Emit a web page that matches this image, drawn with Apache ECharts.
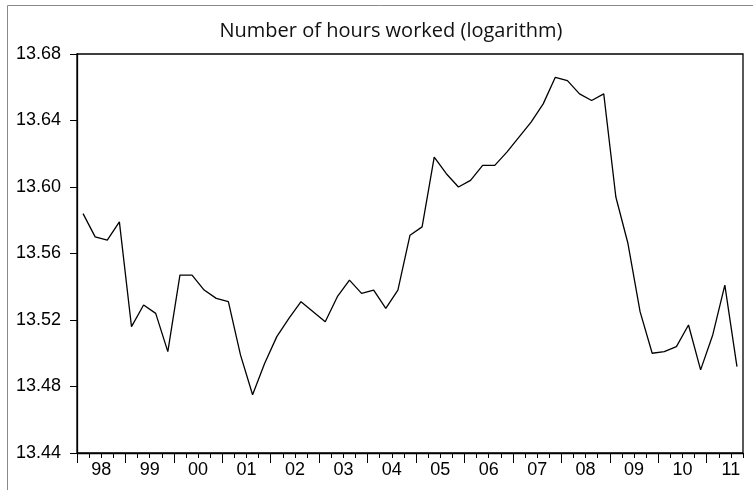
<!DOCTYPE html>
<html>
<head>
<meta charset="utf-8">
<script src="https://cdn.jsdelivr.net/npm/echarts@6/dist/echarts.min.js"></script>
<style>
    html, body { margin: 0; padding: 0; background: #fff; }
    #chart { width: 753px; height: 490px; }
</style>
</head>
<body>
<div id="chart"></div>
<script>
    // quarterly observations, 1998Q1 .. 2011Q3
    const firstYear = 1998;
    const hours = [
        13.584, 13.570, 13.568, 13.579,
        13.516, 13.529, 13.524, 13.501,
        13.547, 13.547, 13.538, 13.533,
        13.531, 13.499, 13.475, 13.494,
        13.510, 13.521, 13.531, 13.525,
        13.519, 13.534, 13.544, 13.536,
        13.538, 13.527, 13.538, 13.571,
        13.576, 13.618, 13.608, 13.600,
        13.604, 13.613, 13.613, 13.621,
        13.630, 13.639, 13.650, 13.666,
        13.664, 13.656, 13.652, 13.656,
        13.594, 13.566, 13.525, 13.500,
        13.501, 13.504, 13.517, 13.490,
        13.511, 13.541, 13.492
    ];
    const yTicks = [13.44, 13.48, 13.52, 13.56, 13.60, 13.64, 13.68];

    const nQ = hours.length;
    const quarterTicks = [];
    for (let q = 0; q <= nQ; q++) quarterTicks.push(q);
    const yearTicks = [];
    const yearLabelPos = [];
    for (let q = 0; q < nQ; q += 4) {
        yearTicks.push(q);
        yearLabelPos.push(q + 2);
    }
    const lineData = hours.map((v, i) => [i + 0.5, v]);

    const chart = echarts.init(document.getElementById('chart'));
    const labelFont = "'Liberation Sans', Arial, sans-serif";
    chart.setOption({
        animation: false,
        title: {
            text: 'Number of hours worked (logarithm)',
            left: 386,
            top: 16,
            textAlign: 'center',
            textStyle: {
                fontFamily: "'Open Sans', 'Noto Sans', sans-serif",
                fontWeight: 'normal',
                fontSize: 20,
                color: '#111'
            }
        },
        graphic: [{
            type: 'rect',
            left: 5,
            top: 3,
            shape: { width: 800, height: 600 },
            style: { fill: 'none', stroke: '#8a8a8a', lineWidth: 1 },
            silent: true
        }],
        grid: {
            left: 77,
            right: 10,
            top: 54,
            bottom: 37,
            show: true,
            borderColor: '#000',
            borderWidth: 1.3
        },
        xAxis: [
            {
                type: 'value',
                min: 0,
                max: nQ,
                position: 'bottom',
                splitLine: { show: false },
                axisLine: { show: true, onZero: false, lineStyle: { color: '#000', width: 1.3 } },
                axisTick: { show: true, length: 5, customValues: quarterTicks, lineStyle: { color: '#000' } },
                axisLabel: {
                    customValues: yearLabelPos,
                    margin: 8,
                    color: '#000',
                    fontFamily: labelFont,
                    fontSize: 18,
                    formatter: v => String((firstYear + (v - 2) / 4) % 100).padStart(2, '0')
                }
            },
            {
                type: 'value',
                min: 0,
                max: nQ,
                position: 'bottom',
                splitLine: { show: false },
                axisLine: { show: false },
                axisTick: { show: true, length: 10, customValues: yearTicks, lineStyle: { color: '#000' } },
                axisLabel: { show: false }
            }
        ],
        yAxis: {
            type: 'value',
            min: yTicks[0],
            max: yTicks[yTicks.length - 1],
            interval: 0.04,
            splitLine: { show: false },
            axisLine: { show: true, onZero: false, lineStyle: { color: '#000', width: 1.3 } },
            axisTick: { show: true, length: 7, lineStyle: { color: '#000' } },
            axisLabel: {
                margin: 16,
                color: '#000',
                fontFamily: labelFont,
                fontSize: 18,
                formatter: v => v.toFixed(2)
            }
        },
        series: [{
            type: 'line',
            xAxisIndex: 0,
            data: lineData,
            showSymbol: false,
            lineStyle: { color: '#000', width: 1.3 }
        }]
    });
</script>
</body>
</html>
